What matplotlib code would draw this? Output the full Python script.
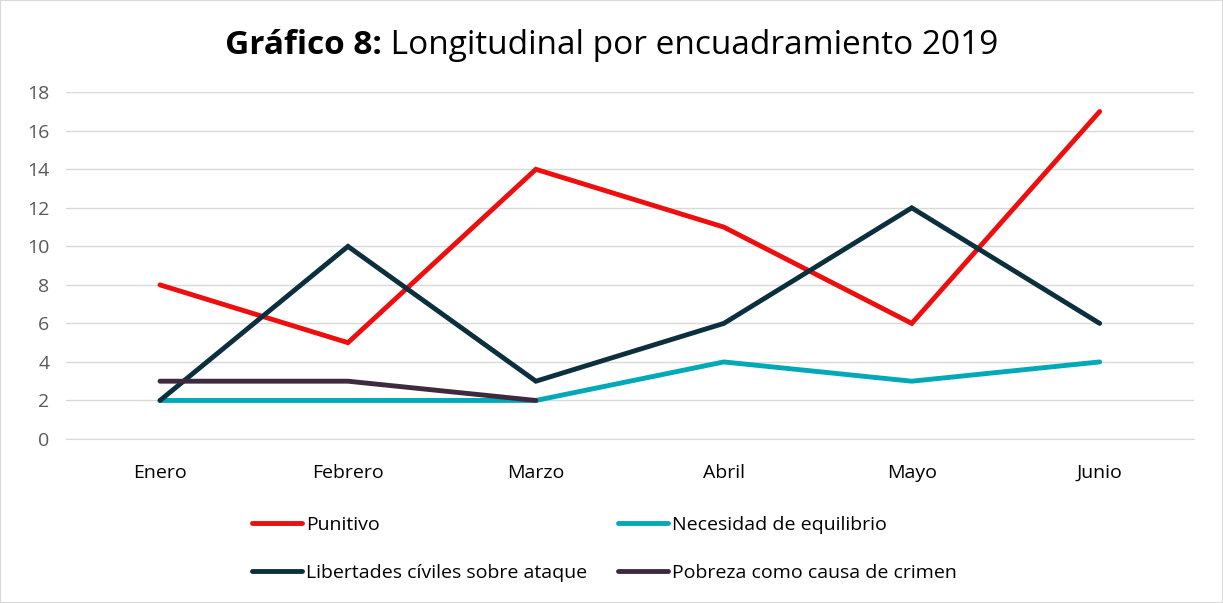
import matplotlib.pyplot as plt

meses = ['Enero', 'Febrero', 'Marzo', 'Abril', 'Mayo', 'Junio']
punitivo = [8, 5, 14, 11, 6, 17]
equilibrio = [2, 2, 2, 4, 3, 4]
libertades = [2, 10, 3, 6, 12, 6]
pobreza = [3, 3, 2]

series = [
    ('Punitivo', punitivo, '#EE0E0E'),
    ('Necesidad de equilibrio', equilibrio, '#00A9B7'),
    ('Libertades cíviles sobre ataque', libertades, '#0C2F3E'),
    ('Pobreza como causa de crimen', pobreza, '#3E2A3E'),
]

plt.rcParams['font.family'] = ['Open Sans', 'DejaVu Sans']

fig = plt.figure(figsize=(12.23, 6.03), dpi=100)
ax = fig.add_axes([0.054, 0.272, 0.922, 0.575])

x = list(range(len(meses)))
lineas = []
for nombre, vals, color in series:
    l, = ax.plot(x[:len(vals)], vals, color=color, lw=3.5, label=nombre,
                 solid_capstyle='round', solid_joinstyle='miter')
    lineas.append(l)

ax.set_xlim(-0.5, len(meses) - 0.5)
ax.set_ylim(0, 18)
ax.set_yticks(range(0, 19, 2))
ax.set_xticks(x)
ax.set_xticklabels(meses)
ax.grid(axis='y', color='#D9D9D9', lw=1)
ax.set_axisbelow(True)
for s in ['top', 'right', 'left']:
    ax.spines[s].set_visible(False)
ax.spines['bottom'].set_color('#D9D9D9')
ax.tick_params(length=0, labelsize=14, labelcolor='#000000')
ax.tick_params(axis='y', labelcolor='#595959', pad=12)
ax.tick_params(axis='x', pad=18)

# titulo en dos partes (negrita + normal), centrado en conjunto
fs = 24
t1 = fig.text(0, 0.925, 'Gráfico 8:', fontsize=fs, fontweight='bold', va='center', ha='left')
t2 = fig.text(0, 0.925, ' Longitudinal por encuadramiento 2019', fontsize=fs, va='center', ha='left')
fig.canvas.draw()
w1 = t1.get_window_extent().width / fig.bbox.width
w2 = t2.get_window_extent().width / fig.bbox.width
x0 = 0.5 - (w1 + w2) / 2
t1.set_x(x0)
t2.set_x(x0 + w1)

# leyenda: dos columnas colocadas a mano
for idx, xpos in [((0, 2), 0.206), ((1, 3), 0.505)]:
    leg = fig.legend([lineas[i] for i in idx], [series[i][0] for i in idx],
                     loc='upper left', bbox_to_anchor=(xpos, 0.145),
                     frameon=False, fontsize=14, handlelength=2.6, handletextpad=0.2,
                     labelspacing=1.55, borderaxespad=0, borderpad=0)
    for line in leg.get_lines():
        line.set_linewidth(3.5)

fig.patches.append(plt.Rectangle((0, 0), 1, 1, transform=fig.transFigure,
                                 fill=False, edgecolor='#D9D9D9', lw=1.5))

fig.savefig('out.png', dpi=100)
